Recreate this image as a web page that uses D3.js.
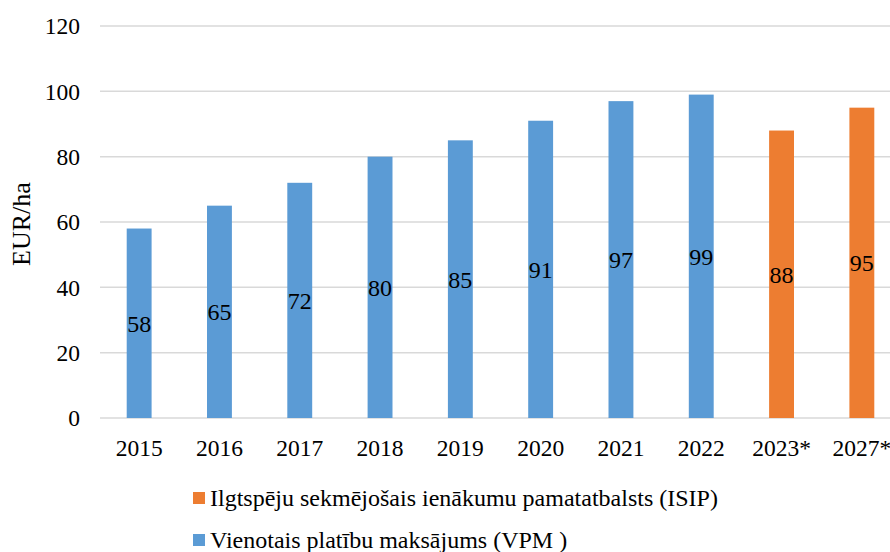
<!DOCTYPE html>
<html>
<head>
<meta charset="utf-8">
<script src="https://cdn.jsdelivr.net/npm/d3@7"></script>
<style>
  body { margin: 0; background: #fff; }
  svg { font-family: "Liberation Serif", "Times New Roman", serif; }
</style>
</head>
<body>
<script>
// ** Data
const years = ["2015", "2016", "2017", "2018", "2019", "2020", "2021", "2022", "2023*", "2027*"];
const values = [58, 65, 72, 80, 85, 91, 97, 99, 88, 95];
const series = ["VPM", "VPM", "VPM", "VPM", "VPM", "VPM", "VPM", "VPM", "ISIP", "ISIP"];
const yTicks = [0, 20, 40, 60, 80, 100, 120];
const legendItems = [
  { key: "ISIP", label: "Ilgtspēju sekmējošais ienākumu pamatatbalsts (ISIP)" },
  { key: "VPM", label: "Vienotais platību maksājums (VPM )" }
];

// ** Setup
const width = 890, height = 552;
const color = d3.scaleOrdinal().domain(["VPM", "ISIP"]).range(["#5B9BD5", "#ED7D31"]);

const svg = d3.select("body").append("svg")
  .attr("width", width)
  .attr("height", height);

const x = d3.scaleBand().domain(years).range([99, 902]).paddingInner(0.69).paddingOuter(0.345);
const y = d3.scaleLinear().domain([0, 120]).range([418, 26]);

// gridlines
svg.append("g")
  .selectAll("line")
  .data(yTicks)
  .join("line")
  .attr("x1", 100)
  .attr("x2", width)
  .attr("y1", d => y(d))
  .attr("y2", d => y(d))
  .attr("stroke", "#D9D9D9")
  .attr("stroke-width", 1.5);

// y tick labels
svg.append("g")
  .selectAll("text")
  .data(yTicks)
  .join("text")
  .attr("x", 80)
  .attr("y", d => y(d))
  .attr("dy", "0.35em")
  .attr("text-anchor", "end")
  .attr("font-size", 23.5)
  .text(d => d);

// y axis title
svg.append("text")
  .attr("transform", `translate(30,${y(60) + 2}) rotate(-90)`)
  .attr("text-anchor", "middle")
  .attr("font-size", 26)
  .text("EUR/ha");

// bars
const data = years.map((d, i) => ({ year: d, value: values[i], series: series[i] }));
svg.append("g")
  .selectAll("rect")
  .data(data)
  .join("rect")
  .attr("x", d => x(d.year))
  .attr("width", x.bandwidth())
  .attr("y", d => y(d.value))
  .attr("height", d => y(0) - y(d.value))
  .attr("fill", d => color(d.series));

// value labels in bar middle
svg.append("g")
  .selectAll("text")
  .data(data)
  .join("text")
  .attr("x", d => x(d.year) + x.bandwidth() / 2)
  .attr("y", d => (y(d.value) + y(0)) / 2)
  .attr("dy", "0.35em")
  .attr("text-anchor", "middle")
  .attr("font-size", 24)
  .text(d => d.value);

// x tick labels
svg.append("g")
  .selectAll("text")
  .data(years)
  .join("text")
  .attr("x", d => x(d) + x.bandwidth() / 2)
  .attr("y", 456)
  .attr("text-anchor", "middle")
  .attr("font-size", 23.5)
  .text(d => d);

// legend
const legend = svg.append("g")
  .selectAll("g")
  .data(legendItems)
  .join("g")
  .attr("transform", (d, i) => `translate(193,${498 + i * 42})`);

legend.append("rect")
  .attr("x", 0)
  .attr("y", -6)
  .attr("width", 12)
  .attr("height", 12)
  .attr("fill", d => color(d.key));

legend.append("text")
  .attr("x", 17)
  .attr("y", 0)
  .attr("dy", "0.35em")
  .attr("font-size", 24)
  .text(d => d.label);
</script>
</body>
</html>
